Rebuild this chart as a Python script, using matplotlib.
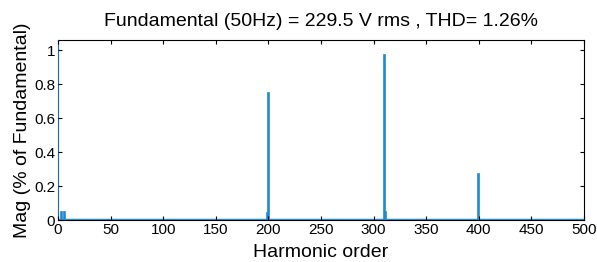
import numpy as np
import matplotlib.pyplot as plt

plt.rcParams['font.family'] = ['Liberation Sans', 'DejaVu Sans']

# harmonic orders with non-zero magnitude (% of fundamental)
orders = [0, 3, 6, 199, 200, 310, 311, 400]
mags = [100.0, 0.05, 0.05, 0.04, 0.75, 0.97, 0.05, 0.27]

n_max = 500
harm = np.arange(0, n_max + 1)
spectrum = np.zeros(len(harm))
spectrum[orders] = mags

fig = plt.figure(figsize=(5.97, 2.62), dpi=100)
ax = fig.add_axes([58 / 597, 1 - 220 / 262, 526 / 597, 180 / 262])

col = "#1f8ad0"
ax.bar(harm, spectrum, width=0.8, color=col, edgecolor=col, linewidth=1.2)
ax.axhline(0, color=col, lw=2.5, zorder=1)

ax.set_xlim(0, 500)
ax.set_ylim(0, 1.06)
ax.set_xticks(np.arange(0, 501, 50))
ax.set_yticks([0, 0.2, 0.4, 0.6, 0.8, 1])
ax.set_yticklabels(["0", "0.2", "0.4", "0.6", "0.8", "1"])
ax.tick_params(direction="in", labelsize=11, length=3, top=True, right=True,
               labeltop=False, labelright=False, pad=2)
for s in ax.spines.values():
    s.set_linewidth(0.8)
    s.set_zorder(0.5)

ax.set_title("Fundamental (50Hz) = 229.5 V rms , THD= 1.26%", fontsize=14, pad=10)
ax.set_xlabel("Harmonic order", fontsize=14, labelpad=5)
ax.set_ylabel("Mag (% of Fundamental)", fontsize=14, labelpad=2)

fig.savefig("out.png", dpi=100)
